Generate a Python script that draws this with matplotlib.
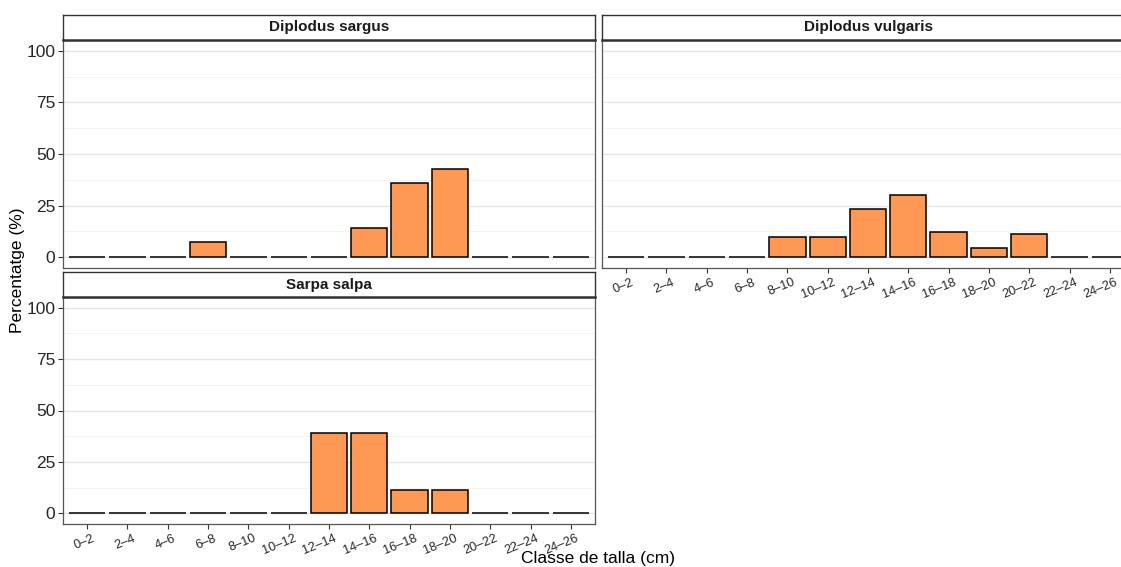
import numpy as np
import matplotlib.pyplot as plt
from matplotlib.ticker import MultipleLocator
from matplotlib.transforms import ScaledTranslation

plt.rcParams['font.family'] = ['Liberation Sans', 'DejaVu Sans']

classes = ["0-2", "2-4", "4-6", "6-8", "8-10", "10-12", "12-14",
           "14-16", "16-18", "18-20", "20-22", "22-24", "24-26"]
labels = [c.replace("-", "\u2013") for c in classes]

sargus = [0, 0, 0, 7.14, 0, 0, 0, 14.29, 35.71, 42.86, 0, 0, 0]
vulgaris = [0, 0, 0, 0, 9.7, 9.7, 23.3, 30.1, 12.1, 4.4, 11.2, 0, 0]
salpa = [0, 0, 0, 0, 0, 0, 38.89, 38.89, 11.11, 11.11, 0, 0, 0]

W, H = 1121, 567
fig = plt.figure(figsize=(W / 100, H / 100), dpi=100)

FILL = "#FD9955"
BORDER = "#555555"


def px(x0, y0, x1, y1):
    # pixel box -> figure fraction [left, bottom, width, height]
    return [x0 / W, 1 - y1 / H, (x1 - x0) / W, (y1 - y0) / H]


def panel(box, strip_box, title, values, show_y, show_x):
    ax = fig.add_axes(px(*box))
    x = np.arange(len(classes))
    ax.bar(x, values, width=0.9, color=FILL, edgecolor="black", linewidth=1.1, zorder=3)
    ax.set_xlim(-0.6, len(classes) - 0.4)
    ax.set_ylim(-5.25, 105.25)
    ax.yaxis.set_major_locator(MultipleLocator(25))
    ax.yaxis.set_minor_locator(MultipleLocator(12.5))
    ax.grid(True, which="major", axis="y", color="#E6E6E6", linewidth=1.0, zorder=0)
    ax.grid(True, which="minor", axis="y", color="#F2F2F2", linewidth=0.6, zorder=0)
    ax.set_axisbelow(True)
    for s in ax.spines.values():
        s.set_color(BORDER)
        s.set_linewidth(0.9)
    ax.tick_params(which="minor", length=0)
    ax.tick_params(axis="both", which="major", color="#333333", length=3.5, width=0.8)
    if show_y:
        ax.tick_params(axis="y", labelsize=12.5, labelcolor="#262626", pad=2)
    else:
        ax.tick_params(axis="y", left=False, labelleft=False)
    ax.set_xticks(x)
    if show_x:
        ax.set_xticklabels(labels, rotation=22, ha="right", rotation_mode="anchor",
                           fontsize=9.2, color="#262626")
        ax.tick_params(axis="x", pad=2.5)
        shift = ScaledTranslation(5 / 100, 0, fig.dpi_scale_trans)
        for lab in ax.get_xticklabels():
            lab.set_transform(lab.get_transform() + shift)
    else:
        ax.tick_params(axis="x", bottom=False, labelbottom=False)

    sax = fig.add_axes(px(*strip_box))
    sax.set_xticks([])
    sax.set_yticks([])
    for s in sax.spines.values():
        s.set_color("#333333")
        s.set_linewidth(1.0)
    sax.spines["bottom"].set_linewidth(1.8)
    sax.text(0.5, 0.5, title, ha="center", va="center", fontsize=11,
             fontweight="bold", color="#1A1A1A", transform=sax.transAxes)
    return ax


# right column runs past the right edge of the canvas
panel((63, 40, 595, 268), (63, 15, 595, 40), "Diplodus sargus", sargus, True, False)
panel((602, 40, 1134, 268), (602, 15, 1134, 40), "Diplodus vulgaris", vulgaris, False, True)
panel((63, 297, 595, 524), (63, 272, 595, 297), "Sarpa salpa", salpa, True, True)

fig.text(598 / W, 1 - 559 / H, "Classe de talla (cm)", ha="center", va="center", fontsize=12.5)
fig.text(18 / W, 1 - 270 / H, "Percentatge (%)", ha="center", va="center",
         rotation=90, fontsize=12.5)

fig.savefig("out.png", dpi=100)
